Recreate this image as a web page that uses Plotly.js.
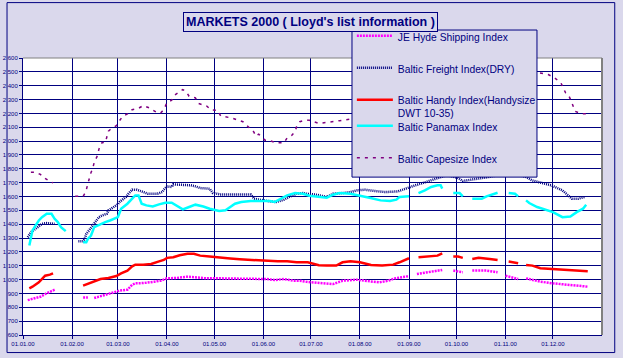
<!DOCTYPE html>
<html>
<head>
<meta charset="utf-8">
<script src="https://cdn.plot.ly/plotly-3.0.1.min.js"></script>
<style>
html,body{margin:0;padding:0;background:#DAD8EC;}
#chart{width:623px;height:358px;}
</style>
</head>
<body>
<div id="chart"></div>
<script>
// ---- Data (null = gap in the series) ----
const hydeDates = ["2000-01-04","2000-01-09","2000-01-12","2000-01-15","2000-01-18","2000-01-21","2000-01-28",
 "2000-02-08","2000-02-11","2000-02-13","2000-02-15","2000-02-19","2000-02-23","2000-02-27","2000-03-02","2000-03-07",
 "2000-03-10","2000-03-12","2000-03-17","2000-03-24","2000-03-28","2000-04-01","2000-04-07","2000-04-14","2000-04-20",
 "2000-04-26","2000-05-05","2000-05-15","2000-05-26","2000-06-03","2000-06-08","2000-06-14","2000-06-20","2000-06-24",
 "2000-06-29","2000-07-06","2000-07-15","2000-07-21","2000-07-30","2000-08-04","2000-08-13","2000-08-19","2000-08-23",
 "2000-08-30","2000-09-01","2000-09-03","2000-09-06","2000-09-12","2000-09-18","2000-09-22","2000-09-26","2000-09-29",
 "2000-10-05","2000-10-08","2000-10-11","2000-10-20","2000-10-27","2000-10-30","2000-11-01","2000-11-09","2000-11-11",
 "2000-11-14","2000-11-23","2000-12-01","2000-12-09","2000-12-16","2000-12-23"];
const hydeValues = [852,864,876,896,913,927,null,
 871,871,null,867,879,891,903,920,927,
 963,973,975,985,992,1009,1012,1021,1016,
 1009,1009,1009,1009,1004,997,1004,992,992,
 983,975,968,992,999,992,980,992,1009,
 1021,1026,null,1040,1053,1065,1070,null,1065,
 1053,null,1065,1065,1053,null,1028,1004,null,
 1009,985,973,963,956,949];

const bfiDates = ["2000-01-04","2000-01-06","2000-01-09","2000-01-11","2000-01-13","2000-01-16","2000-01-19","2000-01-21","2000-01-28",
 "2000-02-05","2000-02-08","2000-02-09","2000-02-10","2000-02-12","2000-02-14","2000-02-18","2000-02-20","2000-02-23","2000-02-24",
 "2000-02-27","2000-03-01","2000-03-02","2000-03-06","2000-03-08","2000-03-10","2000-03-13","2000-03-16","2000-03-20","2000-03-26",
 "2000-03-29","2000-03-30","2000-04-01","2000-04-04","2000-04-05","2000-04-07","2000-04-12","2000-04-16","2000-04-19","2000-04-22",
 "2000-04-28","2000-04-30","2000-05-05","2000-05-13","2000-05-24","2000-05-26","2000-06-01","2000-06-05","2000-06-09","2000-06-14",
 "2000-06-17","2000-06-22","2000-06-26","2000-06-29","2000-07-03","2000-07-06","2000-07-11","2000-07-15","2000-07-21","2000-07-26",
 "2000-07-30","2000-08-04","2000-08-10","2000-08-17","2000-08-25","2000-08-31","2000-09-05","2000-09-10","2000-09-16","2000-09-20",
 "2000-09-25","2000-10-02","2000-10-05","2000-10-14","2000-10-21","2000-11-01","2000-11-08","2000-11-14","2000-11-18","2000-11-24",
 "2000-11-30","2000-12-07","2000-12-11","2000-12-13","2000-12-17","2000-12-21"];
const bfiValues = [1306,1342,1367,1384,1403,1408,1403,1403,null,
 1277,1277,1294,1330,1359,1391,1451,1463,1475,1500,
 1519,1543,1560,1596,1625,1649,1649,1637,1620,1620,
 1632,1649,1673,1669,1688,1686,1686,1681,1673,1661,
 1656,1625,1615,1615,1615,1584,1570,1565,1560,1577,
 1596,1620,1625,1618,1615,1610,1596,1620,1625,1632,
 1644,1649,1640,1632,1637,1664,1681,1698,1722,1736,
 1755,1734,1712,1728,1740,1765,1760,1740,1715,1698,
 1681,1644,1608,1584,1584,1596];

const handyDates = ["2000-01-05","2000-01-07","2000-01-11","2000-01-13","2000-01-15","2000-01-18","2000-01-20","2000-01-28",
 "2000-02-08","2000-02-11","2000-02-14","2000-02-19","2000-02-24","2000-02-29","2000-03-03","2000-03-07","2000-03-10","2000-03-12",
 "2000-03-17","2000-03-22","2000-03-27","2000-03-30","2000-04-01","2000-04-05","2000-04-09","2000-04-14","2000-04-18","2000-04-22",
 "2000-04-28","2000-05-05","2000-05-11","2000-05-17","2000-05-24","2000-05-30","2000-06-05","2000-06-10","2000-06-16","2000-06-22",
 "2000-06-29","2000-07-03","2000-07-06","2000-07-11","2000-07-17","2000-07-21","2000-07-26","2000-08-01","2000-08-08","2000-08-15",
 "2000-08-22","2000-08-26","2000-08-30","2000-09-01","2000-09-03","2000-09-07","2000-09-13","2000-09-19","2000-09-22","2000-09-26",
 "2000-09-29","2000-10-02","2000-10-05","2000-10-08","2000-10-11","2000-10-15","2000-10-22","2000-10-27","2000-10-31","2000-11-03",
 "2000-11-09","2000-11-11","2000-11-14","2000-11-18","2000-11-23","2000-12-01","2000-12-09","2000-12-18","2000-12-23"];
const handyValues = [937,949,980,1004,1028,1036,1045,null,
 956,968,985,1004,1012,1026,1045,1065,1096,1108,
 1108,1113,1132,1142,1157,1161,1176,1186,1186,1173,
 1166,1161,1152,1147,1142,1135,1132,1132,1132,1125,
 1125,1111,1104,1101,1101,1125,1132,1125,1106,1101,
 1108,1125,1142,1154,null,1161,1166,1173,1190,null,
 1166,1166,1157,null,1149,1157,1149,1142,null,1130,
 1118,null,1106,1101,1082,1077,1070,1065,1060];

const panamaxDates = ["2000-01-05","2000-01-06","2000-01-07","2000-01-09","2000-01-11","2000-01-13","2000-01-16","2000-01-19","2000-01-21",
 "2000-01-23","2000-01-25","2000-01-28","2000-02-03","2000-02-08","2000-02-10","2000-02-11","2000-02-13","2000-02-15","2000-02-19",
 "2000-02-22","2000-02-25","2000-02-28","2000-03-01","2000-03-03","2000-03-07","2000-03-10","2000-03-12","2000-03-14","2000-03-16",
 "2000-03-19","2000-03-23","2000-03-27","2000-03-31","2000-04-04","2000-04-07","2000-04-11","2000-04-15","2000-04-19","2000-04-24",
 "2000-04-28","2000-05-04","2000-05-08","2000-05-11","2000-05-14","2000-05-18","2000-05-24","2000-05-30","2000-06-05","2000-06-08",
 "2000-06-12","2000-06-16","2000-06-21","2000-06-26","2000-06-30","2000-07-06","2000-07-11","2000-07-15","2000-07-19","2000-07-26",
 "2000-08-01","2000-08-07","2000-08-14","2000-08-20","2000-08-24","2000-08-26","2000-09-01","2000-09-03","2000-09-07","2000-09-11",
 "2000-09-15","2000-09-19","2000-09-21","2000-09-22","2000-09-26","2000-09-29","2000-10-03","2000-10-05","2000-10-08","2000-10-11",
 "2000-10-17","2000-10-20","2000-10-24","2000-10-27","2000-10-31","2000-11-03","2000-11-07","2000-11-09","2000-11-11","2000-11-14",
 "2000-11-16","2000-11-21","2000-11-27","2000-12-01","2000-12-07","2000-12-12","2000-12-16","2000-12-20","2000-12-22"];
const panamaxValues = [1246,1306,1355,1391,1427,1451,1475,1475,1439,
 1415,1379,1350,null,1270,1270,1294,1318,1379,1403,
 1415,1427,1444,1451,1512,1548,1584,1608,1608,1548,
 1536,1528,1543,1555,1555,1536,1507,1524,1541,1528,
 1512,1495,1500,1524,1548,1560,1567,1567,1567,1560,
 1584,1608,1625,1620,1605,1595,1591,1613,1625,1620,
 1608,1591,1572,1567,1577,1596,1601,null,1625,1644,
 1669,1681,1681,1657,null,1625,1625,1601,null,1584,
 1584,1601,1615,1627,null,1625,1620,1601,null,1572,
 1553,1524,1504,1487,1451,1456,1487,1512,1541];

const capeDates = ["2000-01-06","2000-01-08","2000-01-12","2000-01-13","2000-01-18","2000-01-20","2000-01-26",
 "2000-02-03","2000-02-08","2000-02-09","2000-02-10","2000-02-11","2000-02-12","2000-02-13","2000-02-14","2000-02-15",
 "2000-02-17","2000-02-18","2000-02-20","2000-02-22","2000-02-23","2000-02-24","2000-02-25","2000-02-29","2000-03-02",
 "2000-03-04","2000-03-07","2000-03-10","2000-03-14","2000-03-17","2000-03-21","2000-03-23","2000-03-26","2000-03-28",
 "2000-03-30","2000-04-01","2000-04-04","2000-04-06","2000-04-08","2000-04-11","2000-04-13","2000-04-15","2000-04-19",
 "2000-04-21","2000-04-26","2000-04-29","2000-05-03","2000-05-05","2000-05-12","2000-05-16","2000-05-19","2000-05-26",
 "2000-05-27","2000-05-29","2000-06-02","2000-06-04","2000-06-09","2000-06-14","2000-06-16","2000-06-19","2000-06-21",
 "2000-06-22","2000-06-24","2000-06-28","2000-06-30","2000-07-06","2000-07-14","2000-07-19","2000-07-26","2000-08-15",
 "2000-09-15","2000-10-15","2000-11-10","2000-11-22","2000-11-28","2000-12-02","2000-12-06","2000-12-09","2000-12-11",
 "2000-12-13","2000-12-15","2000-12-19","2000-12-22"];
const capeValues = [1775,1775,1760,1746,1708,1698,null,
 1601,1601,1620,1647,1693,1744,1773,1800,1845,
 1894,1942,1990,1990,2029,2072,2082,2111,2147,
 2179,2196,2227,2237,2256,2239,2222,2203,2203,
 2227,2278,2295,2333,2348,2372,2360,2324,2312,
 2271,2254,2225,2222,2181,2167,2152,2140,2065,
 2036,2050,2007,2007,1988,1988,2024,2043,2070,
 2106,2140,2152,2150,2128,2138,2147,2159,2250,
 2350,2420,2480,2493,2481,2457,2421,2348,2329,
 2275,2215,2198,2198];

const seriesNames = ["JE Hyde Shipping Index","Baltic Freight Index(DRY)","Baltic Handy Index(Handysize<br>DWT 10-35)","Baltic Panamax Index","Baltic Capesize Index"];
const monthTicks = ["2000-01-01","2000-02-01","2000-03-01","2000-04-01","2000-05-01","2000-06-01","2000-07-01","2000-08-01","2000-09-01","2000-10-01","2000-11-01","2000-12-01"];
const monthLabels = ["01.01.00","01.02.00","01.03.00","01.04.00","01.05.00","01.06.00","01.07.00","01.08.00","01.09.00","01.10.00","01.11.00","01.12.00"];
const yTicks = [600,700,800,900,1000,1100,1200,1300,1400,1500,1600,1700,1800,1900,2000,2100,2200,2300,2400,2500,2600];
const yTickLabels = ["600","700","800","900","1 000","1 100","1 200","1 300","1 400","1 500","1 600","1 700","1 800","1 900","2 000","2 100","2 200","2 300","2 400","2 500","2 600"];
const chartTitle = "MARKETS 2000 ( Lloyd's list information )";

// ---- Styles ----
const NAVY = "#000080";
const BG = "#DAD8EC";
const FONT = "Liberation Sans, Arial, sans-serif";
const legendOf = ["legend", "legend", "legend", "legend2", "legend2"];

const traces = [
  {x: hydeDates, y: hydeValues, name: seriesNames[0], line: {color: "#FF00FF", width: 2.5, dash: "2px,1px"}},
  {x: bfiDates, y: bfiValues, name: seriesNames[1], line: {color: NAVY, width: 2.5, dash: "1px,1px"}},
  {x: handyDates, y: handyValues, name: seriesNames[2], line: {color: "#FF0000", width: 2.5}},
  {x: panamaxDates, y: panamaxValues, name: seriesNames[3], line: {color: "#00FFFF", width: 2.5}},
  {x: capeDates, y: capeValues, name: seriesNames[4], line: {color: "#800080", width: 1.5, dash: "3px,5px"}}
].map((t, i) => Object.assign({type: "scatter", mode: "lines", connectgaps: false,
  legendgroup: "g" + i, legend: legendOf[i], hoverinfo: "skip"}, t));

const legendCommon = {
  xanchor: "left", yanchor: "top",
  bgcolor: "rgba(0,0,0,0)", borderwidth: 0,
  font: {family: FONT, size: 10.3, color: NAVY},
  tracegroupgap: 13, valign: "top", itemwidth: 36
};

const layout = {
  width: 623, height: 358,
  margin: {l: 23, r: 21, t: 58, b: 23, pad: 0},
  paper_bgcolor: BG,
  plot_bgcolor: "#FFFFFF",
  showlegend: true,
  font: {family: FONT, color: NAVY},
  xaxis: {
    type: "date",
    range: ["2000-01-01", "2001-01-01"],
    tickvals: monthTicks, ticktext: monthLabels,
    showgrid: true, gridcolor: NAVY, gridwidth: 1,
    showline: true, linecolor: NAVY, linewidth: 1,
    ticks: "outside", ticklen: 3, tickcolor: NAVY,
    tickfont: {size: 6, color: NAVY, family: FONT},
    zeroline: false, fixedrange: true
  },
  yaxis: {
    range: [600, 2600],
    tickvals: yTicks, ticktext: yTickLabels,
    showgrid: true, gridcolor: NAVY, gridwidth: 1,
    showline: true, linecolor: NAVY, linewidth: 1,
    ticks: "outside", ticklen: 3, tickcolor: NAVY,
    tickfont: {size: 6, color: NAVY, family: FONT},
    zeroline: false, fixedrange: true
  },
  legend: Object.assign({x: 0.568, y: 1.128}, legendCommon),
  legend2: Object.assign({x: 0.568, y: 0.803}, legendCommon),
  annotations: [{
    xref: "paper", yref: "paper", x: 0.497, y: 1.13, xanchor: "center", yanchor: "middle",
    text: "<b>" + chartTitle + "</b>", showarrow: false,
    font: {family: FONT, size: 12.5, color: NAVY},
    bordercolor: NAVY, borderwidth: 1, borderpad: 2, bgcolor: BG
  }],
  shapes: [
    {type: "line", xref: "paper", yref: "paper", x0: 0, x1: 1, y0: 1, y1: 1, line: {color: "#808080", width: 1}, layer: "above"},
    {type: "line", xref: "paper", yref: "paper", x0: 1, x1: 1, y0: 0, y1: 1, line: {color: "#808080", width: 2}, layer: "above"},
    {type: "rect", xref: "paper", yref: "paper", x0: -0.0276, x1: 1.022, y0: -0.0634, y1: 1.2, line: {color: NAVY, width: 1}, layer: "above"},
    // legend box
    {type: "rect", xref: "paper", yref: "paper", x0: 0.5682, x1: 0.8877, y0: 0.570, y1: 1.101,
     fillcolor: BG, line: {color: NAVY, width: 1}, layer: "above"}
  ]
};

Plotly.newPlot("chart", traces, layout, {staticPlot: true, displayModeBar: false});
</script>
</body>
</html>
